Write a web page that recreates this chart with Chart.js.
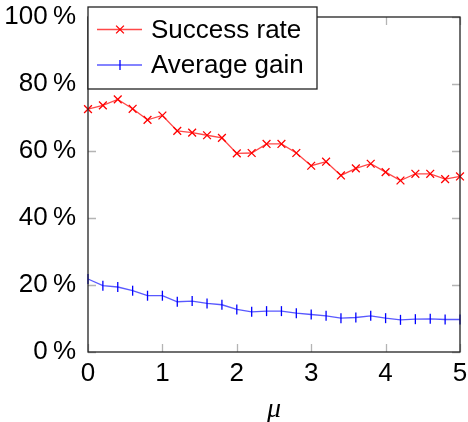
<!DOCTYPE html>
<html>
<head>
<meta charset="utf-8">
<script src="https://cdn.jsdelivr.net/npm/chart.js@4"></script>
<style>
  html, body { margin: 0; padding: 0; background: #fff; }
  #wrap { width: 468px; height: 422px; position: relative; }
</style>
</head>
<body>
<div id="wrap"><canvas id="c"></canvas></div>
<script>
// mu values along the x axis
const MU = [0, 0.2, 0.4, 0.6, 0.8, 1, 1.2, 1.4, 1.6, 1.8, 2, 2.2, 2.4, 2.6, 2.8,
            3, 3.2, 3.4, 3.6, 3.8, 4, 4.2, 4.4, 4.6, 4.8, 5];
// percentages
const SUCCESS_RATE = [72.5, 73.6, 75.4, 72.6, 69.3, 70.6, 66.0, 65.5, 64.7, 63.9, 59.3, 59.4, 62.1,
                      62.1, 59.4, 55.6, 56.8, 52.7, 54.8, 56.2, 53.7, 51.2, 53.2, 53.2, 51.6, 52.4];
const AVERAGE_GAIN = [21.8, 19.8, 19.4, 18.3, 16.8, 16.8, 15.0, 15.2, 14.5, 14.1, 12.7, 12.0, 12.2,
                      12.2, 11.6, 11.2, 10.8, 10.1, 10.3, 10.8, 10.1, 9.6, 9.8, 9.9, 9.7, 9.7];
const SERIES_LABELS = ["Success rate", "Average gain"];
const X_TICKS = [0, 1, 2, 3, 4, 5];
const Y_TICKS = [0, 20, 40, 60, 80, 100];

const FONT = "'Liberation Sans', Arial, sans-serif";
Chart.defaults.font.family = FONT;
Chart.defaults.color = "#000";

const pts = (ys) => MU.map((x, i) => ({ x, y: ys[i] }));

// pgfplots-like frame with ticks pointing inwards on all four sides
const frame = {
  id: "frame",
  beforeDatasetsDraw(chart) {
    const { ctx, chartArea: a, scales: { x, y } } = chart;
    const len = 8;
    ctx.save();
    ctx.strokeStyle = "#b4b4b4";
    ctx.lineWidth = 1.3;
    ctx.beginPath();
    X_TICKS.forEach(v => {
      const px = Math.round(x.getPixelForValue(v)) + 0.5;
      ctx.moveTo(px, a.bottom); ctx.lineTo(px, a.bottom - len);
      ctx.moveTo(px, a.top); ctx.lineTo(px, a.top + len);
    });
    Y_TICKS.forEach(v => {
      const py = Math.round(y.getPixelForValue(v)) + 0.5;
      ctx.moveTo(a.left, py); ctx.lineTo(a.left + len, py);
      ctx.moveTo(a.right, py); ctx.lineTo(a.right - len, py);
    });
    ctx.stroke();
    ctx.restore();
  },
  afterDatasetsDraw(chart) {
    const { ctx, chartArea: a } = chart;
    ctx.save();
    ctx.strokeStyle = "#222";
    ctx.lineWidth = 1.3;
    ctx.strokeRect(a.left, a.top, a.right - a.left, a.bottom - a.top);
    ctx.restore();
  },
  // legend box sitting over the top-left corner
  afterDraw(chart) {
    const { ctx } = chart;
    const bx = 88, by = 7, bw = 229, bh = 82;
    ctx.save();
    ctx.fillStyle = "#fff";
    ctx.fillRect(bx, by, bw, bh);
    ctx.strokeStyle = "#222";
    ctx.lineWidth = 1.3;
    ctx.strokeRect(bx, by, bw, bh);
    const rows = [29.5, 65];
    chart.data.datasets.forEach((ds, i) => {
      const cy = rows[i];
      ctx.strokeStyle = ds.borderColor;
      ctx.lineWidth = ds.borderWidth;
      ctx.beginPath();
      ctx.moveTo(97, cy); ctx.lineTo(142, cy);
      ctx.stroke();
      ctx.strokeStyle = ds.pointBorderColor;
      ctx.lineWidth = ds.pointBorderWidth;
      Chart.helpers.drawPoint(ctx, { pointStyle: ds.pointStyle, rotation: ds.pointRotation, radius: ds.pointRadius, borderWidth: ds.pointBorderWidth }, 120, cy);
      ctx.fillStyle = "#000";
      ctx.font = "26px " + FONT;
      ctx.textBaseline = "middle";
      ctx.fillText(ds.label, 151, cy + 1);
    });
    ctx.restore();
  }
};

new Chart(document.getElementById("c"), {
  type: "line",
  data: {
    datasets: [
      {
        label: SERIES_LABELS[0],
        data: pts(SUCCESS_RATE),
        borderColor: "rgba(255,40,40,0.85)",
        borderWidth: 1.3,
        pointStyle: "crossRot",
        pointRadius: 5.5,
        pointBorderColor: "#ff0000",
        pointBorderWidth: 1.3,
        pointRotation: 0,
        fill: false,
        tension: 0,
        clip: false
      },
      {
        label: SERIES_LABELS[1],
        data: pts(AVERAGE_GAIN),
        borderColor: "rgba(60,60,255,0.85)",
        borderWidth: 1.3,
        pointStyle: "line",
        pointRotation: 90,
        pointRadius: 5,
        pointBorderColor: "#0000ff",
        pointBorderWidth: 1.3,
        fill: false,
        tension: 0,
        clip: false
      }
    ]
  },
  options: {
    responsive: true,
    maintainAspectRatio: false,
    animation: false,
    layout: { padding: { top: 17, right: 8, left: 0, bottom: 0 } },
    plugins: { legend: { display: false }, tooltip: { enabled: false } },
    elements: { point: { hoverRadius: 5 } },
    scales: {
      x: {
        type: "linear",
        min: 0, max: 5,
        afterBuildTicks: s => { s.ticks = X_TICKS.map(v => ({ value: v })); },
        afterFit: s => { s.height = 70; s.paddingLeft = 0; s.paddingRight = 0; },
        ticks: { font: { size: 26 }, color: "#000", padding: 6, maxRotation: 0 },
        grid: { display: false, drawTicks: false },
        border: { display: false },
        title: {
          display: true, text: "μ", color: "#000",
          font: { family: "'Liberation Serif', serif", style: "italic", size: 28, lineHeight: 1.0 },
          padding: { top: 0, bottom: -2 }
        }
      },
      y: {
        min: 0, max: 100,
        afterBuildTicks: s => { s.ticks = Y_TICKS.map(v => ({ value: v })); },
        afterFit: s => { s.width = 88; s.paddingTop = 0; s.paddingBottom = 0; },
        ticks: { font: { size: 26 }, color: "#000", padding: 12, callback: v => v + "\u2009%" },
        grid: { display: false, drawTicks: false },
        border: { display: false }
      }
    }
  },
  plugins: [frame]
});
</script>
</body>
</html>
